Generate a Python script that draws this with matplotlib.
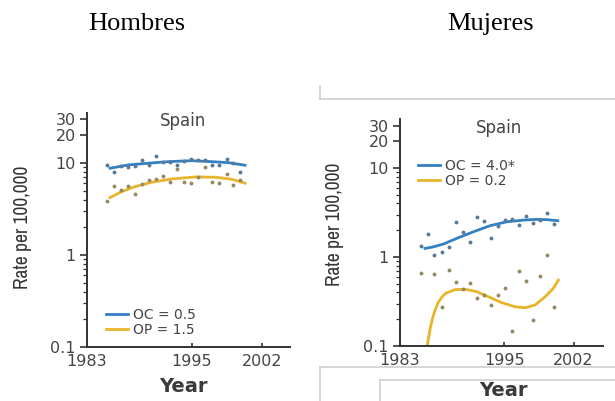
import matplotlib
matplotlib.use('Agg')
import matplotlib.pyplot as plt
from matplotlib import font_manager
from matplotlib.lines import Line2D

# %% data (x in axis years, y rate per 100,000)
# Hombres
men_oc_years = [1985.32, 1986.09, 1986.89, 1987.65, 1988.49, 1989.29, 1990.12, 1990.89, 1991.72, 1992.49,
                1993.25, 1994.09, 1994.89, 1995.72, 1996.49, 1997.32, 1998.12, 1998.97, 1999.72, 2000.49]
men_oc_rate = [9.6, 7.9, 9.35, 9.0, 9.3, 10.7, 9.6, 11.9, 10.2, 10.2,
               9.4, 10.5, 11.1, 10.7, 10.8, 9.6, 9.4, 11.0, 9.9, 8.0]
men_op_years = men_oc_years
men_op_rate = [3.86, 5.67, 5.09, 5.67, 4.60, 5.87, 6.54, 6.65, 7.22, 6.17,
               8.61, 6.17, 6.06, 7.10, 8.98, 6.26, 6.06, 7.54, 5.72, 6.48]
men_oc_fit_x = [1985.63, 1987.72, 1990.0, 1992.29, 1994.97, 1997.25, 1999.15, 2001.06]
men_oc_fit_y = [8.76, 9.52, 9.93, 10.33, 10.59, 10.33, 10.08, 9.44]
men_op_fit_x = [1985.63, 1986.97, 1988.49, 1990.39, 1992.68, 1995.34, 1997.63, 1999.54, 2001.06]
men_op_fit_y = [4.20, 4.88, 5.53, 6.17, 6.70, 7.04, 7.0, 6.65, 6.02]

# Mujeres
wom_oc_years = [1985.42, 1986.26, 1986.96, 1987.81, 1988.65, 1989.46, 1990.23, 1991.07, 1991.92, 1992.72,
                1993.46, 1994.30, 1995.11, 1995.92, 1996.73, 1997.53, 1998.31, 1999.15, 1999.92, 2000.76]
wom_oc_rate = [1.33, 1.81, 1.05, 1.15, 1.28, 2.45, 1.90, 1.47, 2.79, 2.52,
               1.62, 2.23, 2.58, 2.69, 2.31, 2.89, 2.39, 2.60, 3.15, 2.37]
wom_op_years = [1985.42, 1986.96, 1987.81, 1988.65, 1989.46, 1990.23, 1991.07, 1991.92, 1992.72, 1993.46,
                1994.27, 1995.11, 1995.92, 1996.73, 1997.53, 1998.31, 1999.15, 1999.92, 2000.76]
wom_op_rate = [0.666, 0.649, 0.276, 0.709, 0.520, 0.434, 0.514, 0.346, 0.374, 0.287,
               0.374, 0.449, 0.146, 0.702, 0.542, 0.196, 0.617, 1.045, 0.274]
wom_oc_fit_x = [1985.88, 1986.84, 1988.0, 1989.54, 1991.45, 1993.38, 1995.31, 1997.22, 1998.77, 1999.92, 2001.19]
wom_oc_fit_y = [1.25, 1.30, 1.40, 1.62, 1.92, 2.25, 2.49, 2.60, 2.65, 2.63, 2.56]
wom_op_fit_x = [1986.12, 1986.3, 1986.5, 1986.75, 1987.05, 1987.42, 1987.85, 1988.3, 1989.34, 1990.50,
                1991.85, 1993.18, 1994.73, 1996.26, 1997.42, 1998.57, 1999.73, 2000.68, 2001.26]
wom_op_fit_y = [0.097, 0.125, 0.160, 0.205, 0.255, 0.310, 0.357, 0.393, 0.430, 0.434,
                0.408, 0.358, 0.307, 0.276, 0.269, 0.289, 0.358, 0.445, 0.55]

xtick_pos = [1983, 1995, 2003]
xtick_lab = ['1983', '1995', '2002']
ytick_pos = [0.1, 1, 10, 20, 30]
ytick_lab = ['0.1', '1', '10', '20', '30']

blue = '#3380c2'
gold = '#e8b42a'
blue_pt = '#5a7a9a'
gold_pt = '#978a62'
grey = '#444444'

# narrow face for the y label, if one is installed
narrow = 'DejaVu Sans'
for f in font_manager.fontManager.ttflist:
    if ('Narrow' in f.name or 'Condensed' in f.name) and f.weight in (400, 'normal', 'regular') \
            and f.style == 'normal':
        narrow = f.name
        break

W, H = 615, 401
fig = plt.figure(figsize=(W / 100, H / 100), dpi=100)


def fx(x):
    return x / W


def fy(y):
    return 1 - y / H


def panel(rect, xmax, ymax, oc, op, ocfit, opfit, labels, leg_anchor):
    ax = fig.add_axes(rect)
    ax.set_yscale('log')
    ax.plot(ocfit[0], ocfit[1], color=blue, lw=2.0, label=labels[0], zorder=2)
    ax.plot(opfit[0], opfit[1], color=gold, lw=2.0, label=labels[1], zorder=2)
    ax.plot(oc[0], oc[1], 'o', ms=1.8, color=blue_pt, zorder=3)
    ax.plot(op[0], op[1], 'o', ms=1.8, color=gold_pt, zorder=3)
    ax.set_xlim(1983, xmax)
    ax.set_ylim(0.1, ymax)
    for s in ['top', 'right']:
        ax.spines[s].set_visible(False)
    for s in ['left', 'bottom']:
        ax.spines[s].set_color('#333333')
        ax.spines[s].set_linewidth(1.4)
    ax.set_xticks(xtick_pos)
    ax.set_xticklabels(xtick_lab)
    ax.set_yticks(ytick_pos)
    ax.set_yticklabels(ytick_lab)
    ax.tick_params(axis='x', direction='in', length=3, width=1.2, pad=5,
                   labelsize=11.5, colors='#333333', labelcolor=grey)
    ax.tick_params(axis='y', which='major', direction='out', length=5, width=1.2, pad=3,
                   labelsize=11.5, colors='#333333', labelcolor=grey)
    ax.tick_params(axis='y', which='minor', direction='out', length=3, width=0.9, colors='#333333')
    ax.yaxis.set_minor_formatter(matplotlib.ticker.NullFormatter())
    ax.legend(loc='upper left', bbox_to_anchor=leg_anchor, frameon=False, fontsize=10,
              handlelength=1.6, handletextpad=0.35, labelspacing=0.05,
              borderpad=0, borderaxespad=0, labelcolor=grey)
    return ax


panel([fx(87), fy(347), 203 / W, 234 / H], 2006.2, 34.9,
      (men_oc_years, men_oc_rate), (men_op_years, men_op_rate),
      (men_oc_fit_x, men_oc_fit_y), (men_op_fit_x, men_op_fit_y),
      ['OC = 0.5', 'OP = 1.5'], (0.094, 0.167))

panel([fx(400), fy(346), 203 / W, 227 / H], 2006.4, 35.6,
      (wom_oc_years, wom_oc_rate), (wom_op_years, wom_op_rate),
      (wom_oc_fit_x, wom_oc_fit_y), (wom_op_fit_x, wom_op_fit_y),
      ['OC = 4.0*', 'OP = 0.2'], (0.089, 0.824))

# headings and labels
fig.text(fx(137), fy(24), 'Hombres', family='Liberation Serif', fontsize=19, ha='center', va='center')
fig.text(fx(491), fy(24), 'Mujeres', family='Liberation Serif', fontsize=19, ha='center', va='center')
for x, y in [(183, 121), (499, 128)]:
    fig.text(fx(x), fy(y), 'Spain', fontsize=12, color=grey, ha='center', va='center')
for x, y in [(183, 387), (503, 390)]:
    fig.text(fx(x), fy(y), 'Year', fontsize=14, color='#3a3a3a', ha='center', va='center',
             fontweight='bold')
for x, y in [(23, 227), (335, 224)]:
    fig.text(fx(x), fy(y), 'Rate per 100,000', family=[narrow, 'DejaVu Sans'],
             fontsize=14 if narrow != 'DejaVu Sans' else 12.5, color='#333333',
             rotation=90, ha='center', va='center')

# light grey page frames in the right half
frame = '#cfcfcf'
segs = [((320, 86), (320, 99)), ((320, 99), (615, 99)),
        ((320, 367), (615, 367)), ((320, 367), (320, 401)),
        ((380, 380), (615, 380)), ((380, 380), (380, 401))]
for (x0, y0), (x1, y1) in segs:
    fig.add_artist(Line2D([fx(x0), fx(x1)], [fy(y0), fy(y1)], color=frame, lw=1.2,
                          transform=fig.transFigure))

fig.savefig('out.png', dpi=100)
